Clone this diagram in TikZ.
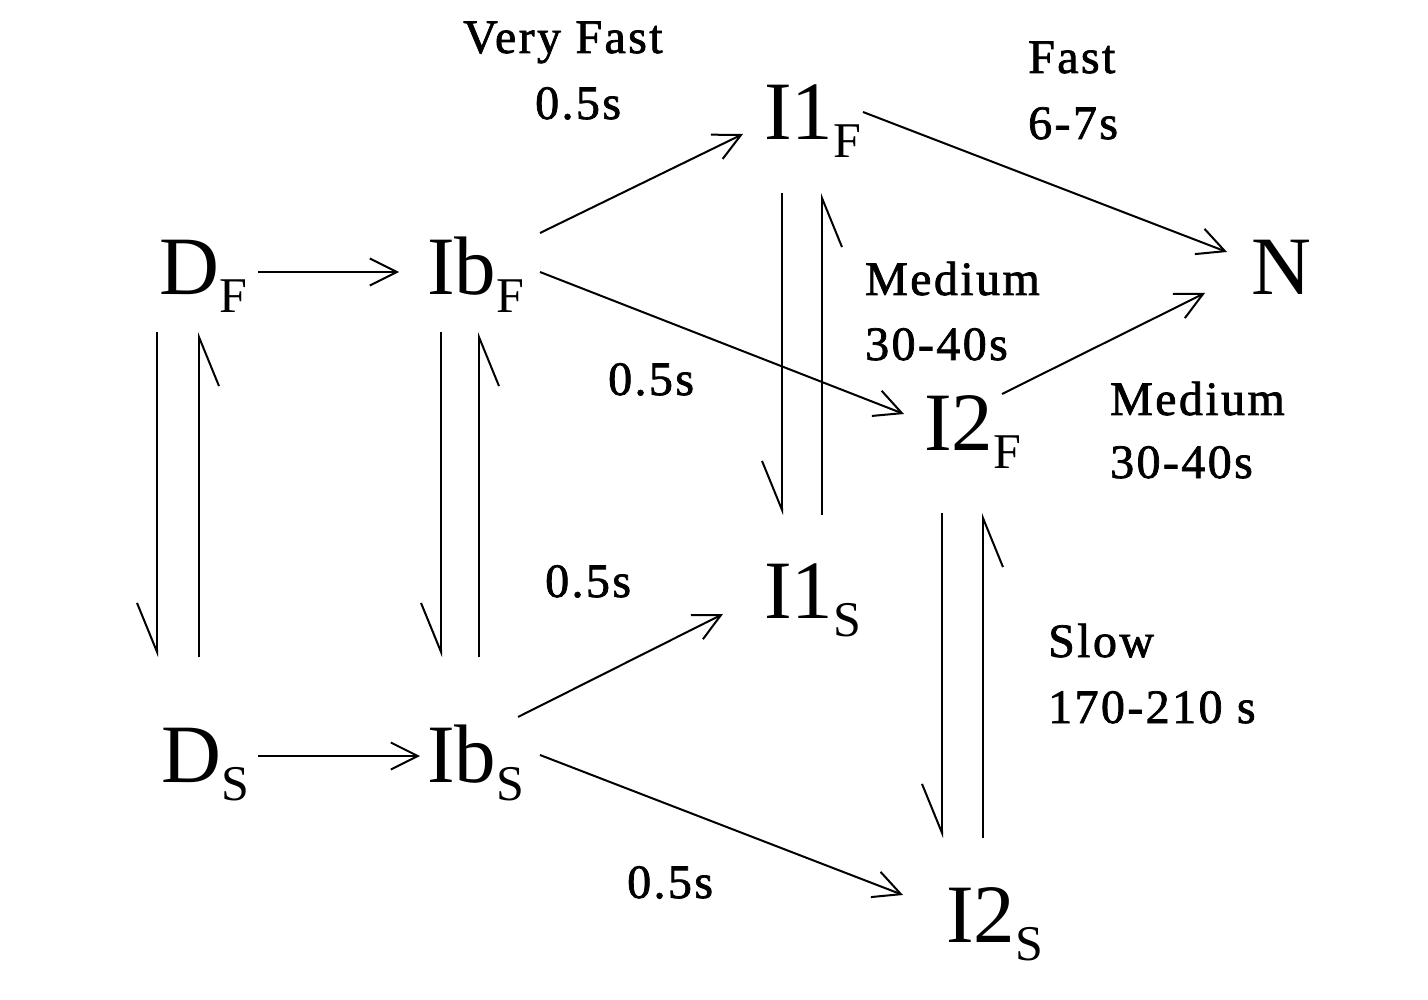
\documentclass[tikz,border=0pt]{standalone}
\usepackage{fontspec}
\setmainfont{Liberation Serif}
\newfontfamily\labfont[LetterSpace=5,FakeBold=1.5]{Liberation Serif}
\usetikzlibrary{arrows.meta,calc}
\newcommand\mainsz{\fontsize{83}{90}\selectfont}
\newcommand\subsz{\fontsize{50}{56}\selectfont}
\newcommand\sbs[1]{\lower18pt\hbox{\subsz #1}}
\begin{document}
\begin{tikzpicture}[x=1pt,y=-1pt,
  state/.style={anchor=base west,inner sep=0pt,font=\mainsz},
  lab/.style={anchor=base west,inner sep=0pt,font={\labfont\fontsize{48}{54}\selectfont}},
  arr/.style={line width=2pt,-{Straight Barb[length=27pt,width=27pt]}},
  harp/.style={line width=2pt,-{Straight Barb[harpoon,swap,length=49pt,width=40pt]}}]
\useasboundingbox[fill=white] (0,0) rectangle (1428,1000);
% states
\node[state] (DF)  at (159,295) {D\sbs{F}};
\node[state] (IbF) at (427,295) {Ib\sbs{F}};
\node[state] (I1F) at (764,140) {I1\sbs{F}};
\node[state] (N)   at (1251,295) {N};
\node[state] (I2F) at (924,450) {I2\sbs{F}};
\node[state] (I1S) at (764,618) {I1\sbs{S}};
\node[state] (DS)  at (161,782) {D\sbs{S}};
\node[state] (IbS) at (427,782) {Ib\sbs{S}};
\node[state] (I2S) at (946,942) {I2\sbs{S}};
% labels
\node[lab] (l1) at (463,53) {Very Fast};
\node[lab] (l2) at (535,119) {0.5s};
\node[lab] (l3) at (1028,73) {Fast};
\node[lab] (l4) at (1028,139) {6-7s};
\node[lab] (l5) at (865,295) {Medium};
\node[lab] (l6) at (865,360) {30-40s};
\node[lab] (l7) at (608,395) {0.5s};
\node[lab] (l8) at (1110,415) {Medium};
\node[lab] (l9) at (1110,478) {30-40s};
\node[lab] (l10) at (545,597) {0.5s};
\node[lab] (l11) at (1048,657) {Slow};
\node[lab] (l12) at (1048,723) {170-210 s};
\node[lab] (l13) at (627,898) {0.5s};
% horizontal arrows
\draw[arr] ($(DF.base west)+(99,-23)$) -- ($(IbF.base west)+(-28,-23)$);
\draw[arr] ($(DS.base west)+(97,-26)$) -- ($(IbS.base west)+(-7,-26)$);
% equilibria
\draw[harp] ($(DF.base west)+(-2,37)$) -- ($(DS.base west)+(-4,-125)$);
\draw[harp] ($(DS.base west)+(38,-125)$) -- ($(DF.base west)+(40,37)$);
\draw[harp] ($(IbF.base west)+(14,37)$) -- ($(IbS.base west)+(14,-125)$);
\draw[harp] ($(IbS.base west)+(52,-125)$) -- ($(IbF.base west)+(52,37)$);
\draw[harp] ($(I1F.base west)+(18,53)$) -- ($(I1S.base west)+(18,-103)$);
\draw[harp] ($(I1S.base west)+(58,-103)$) -- ($(I1F.base west)+(58,53)$);
\draw[harp] ($(I2F.base west)+(18,63)$) -- ($(I2S.base west)+(-4,-104)$);
\draw[harp] ($(I2S.base west)+(37,-104)$) -- ($(I2F.base west)+(59,63)$);
% diagonal arrows
\draw[arr] ($(IbF.base west)+(113,-62)$) -- ($(I1F.base west)+(-21,-6)$);
\draw[arr] ($(IbF.base west)+(113,-23)$) -- ($(I2F.base west)+(-20,-36)$);
\draw[arr] ($(I1F.base west)+(99,-28)$) -- ($(N.base west)+(-24,-43)$);
\draw[arr] ($(I2F.base west)+(78,-56)$) -- ($(N.base west)+(-46,-2)$);
\draw[arr] ($(IbS.base west)+(91,-65)$) -- ($(I1S.base west)+(-41,-4)$);
\draw[arr] ($(IbS.base west)+(113,-27)$) -- ($(I2S.base west)+(-43,-47)$);
\end{tikzpicture}
\end{document}
